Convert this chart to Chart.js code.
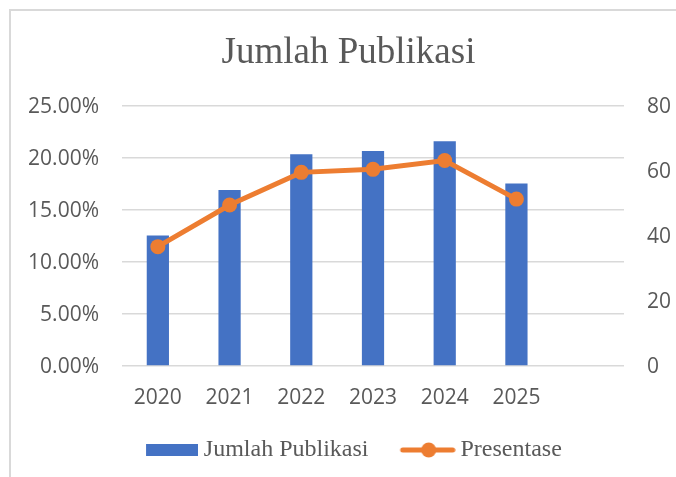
<!DOCTYPE html>
<html>
<head>
<meta charset="utf-8">
<script src="https://cdn.jsdelivr.net/npm/chart.js@4"></script>
<style>
  html, body { margin: 0; padding: 0; background: #fff; width: 676px; height: 477px; overflow: hidden; }
  .frame { position: absolute; left: 9px; top: 9px; width: 800px; height: 600px;
           border-left: 2px solid #d9d9d9; border-top: 2px solid #d9d9d9; }
  .wrap { position: absolute; left: 0; top: 0; width: 697px; height: 477px; }
</style>
</head>
<body>
<div class="frame"></div>
<div class="wrap"><canvas id="chart" width="697" height="477"></canvas></div>
<script>
// data
const years = ['2020', '2021', '2022', '2023', '2024', '2025', ''];
const jumlahPublikasi = [40, 54, 65, 66, 69, 56];
const presentase = [11.43, 15.43, 18.57, 18.86, 19.71, 16.00];
const leftTicks = [0, 5, 10, 15, 20, 25];
const rightTicks = [0, 20, 40, 60, 80];

const BLUE = '#4472C4';
const ORANGE = '#ED7D31';
const GREY = '#595959';
const tickFont = { family: '"Open Sans", sans-serif', size: 21 };

// legend swatches (bar block, line with dot)
function barSwatch() {
  const c = document.createElement('canvas');
  c.width = 69; c.height = 12;
  const g = c.getContext('2d');
  g.fillStyle = BLUE;
  g.fillRect(17, 0, 52, 12);
  return c;
}
function lineSwatch() {
  const c = document.createElement('canvas');
  c.width = 71; c.height = 16;
  const g = c.getContext('2d');
  g.strokeStyle = ORANGE;
  g.lineWidth = 5;
  g.lineCap = 'round';
  g.beginPath(); g.moveTo(18, 8); g.lineTo(68, 8); g.stroke();
  g.fillStyle = ORANGE;
  g.beginPath(); g.arc(44, 8, 7.5, 0, Math.PI * 2); g.fill();
  return c;
}

new Chart(document.getElementById('chart'), {
  type: 'bar',
  data: {
    labels: years,
    datasets: [
      {
        type: 'line',
        label: 'Presentase',
        data: presentase,
        yAxisID: 'y',
        borderColor: ORANGE,
        backgroundColor: ORANGE,
        borderWidth: 5,
        pointRadius: 7.5,
        pointBorderWidth: 0,
        pointBackgroundColor: ORANGE,
        order: 0,
      },
      {
        label: 'Jumlah Publikasi',
        data: jumlahPublikasi,
        yAxisID: 'y1',
        backgroundColor: BLUE,
        categoryPercentage: 1,
        barPercentage: 0.31,
        order: 1,
      },
    ],
  },
  options: {
    responsive: false,
    animation: false,
    layout: { padding: { left: 0, right: 0, top: 0, bottom: 5 } },
    plugins: {
      title: {
        display: true,
        text: 'Jumlah Publikasi',
        color: GREY,
        font: { family: '"Liberation Serif", serif', size: 37, weight: 'normal' },
        padding: { top: 31.5, bottom: 29.6 },
      },
      legend: {
        position: 'bottom',
        labels: {
          color: GREY,
          font: { family: '"Liberation Serif", serif', size: 24 },
          usePointStyle: true,
          pointStyleWidth: 56.6,
          padding: 23.4,
          generateLabels: () => [
            { text: 'Jumlah Publikasi', pointStyle: barSwatch(), fontColor: GREY, hidden: false, datasetIndex: 1, lineWidth: 0 },
            { text: 'Presentase', pointStyle: lineSwatch(), fontColor: GREY, hidden: false, datasetIndex: 0, lineWidth: 0 },
          ],
        },
      },
      tooltip: { enabled: false },
    },
    scales: {
      x: {
        grid: { display: false, drawTicks: false },
        border: { display: false },
        ticks: { color: GREY, font: tickFont, padding: 20, maxRotation: 0 },
        afterFit: (s) => { s.height = 49.1; },
      },
      y: {
        position: 'left',
        min: 0,
        max: 25,
        afterBuildTicks: (s) => { s.ticks = leftTicks.map((v) => ({ value: v })); },
        grid: { color: '#D9D9D9', lineWidth: 1.5, drawTicks: false },
        border: { display: false },
        ticks: { color: GREY, font: tickFont, padding: 23, labelOffset: 2, callback: (v) => v.toFixed(2) + '%' },
        afterFit: (s) => { s.width = 122; },
      },
      y1: {
        position: 'right',
        min: 0,
        max: 80,
        afterBuildTicks: (s) => { s.ticks = rightTicks.map((v) => ({ value: v })); },
        grid: { display: false, drawTicks: false },
        border: { display: false },
        ticks: { color: GREY, font: tickFont, padding: 23, labelOffset: 2 },
        afterFit: (s) => { s.width = 73; },
      },
    },
  },
});
</script>
</body>
</html>
